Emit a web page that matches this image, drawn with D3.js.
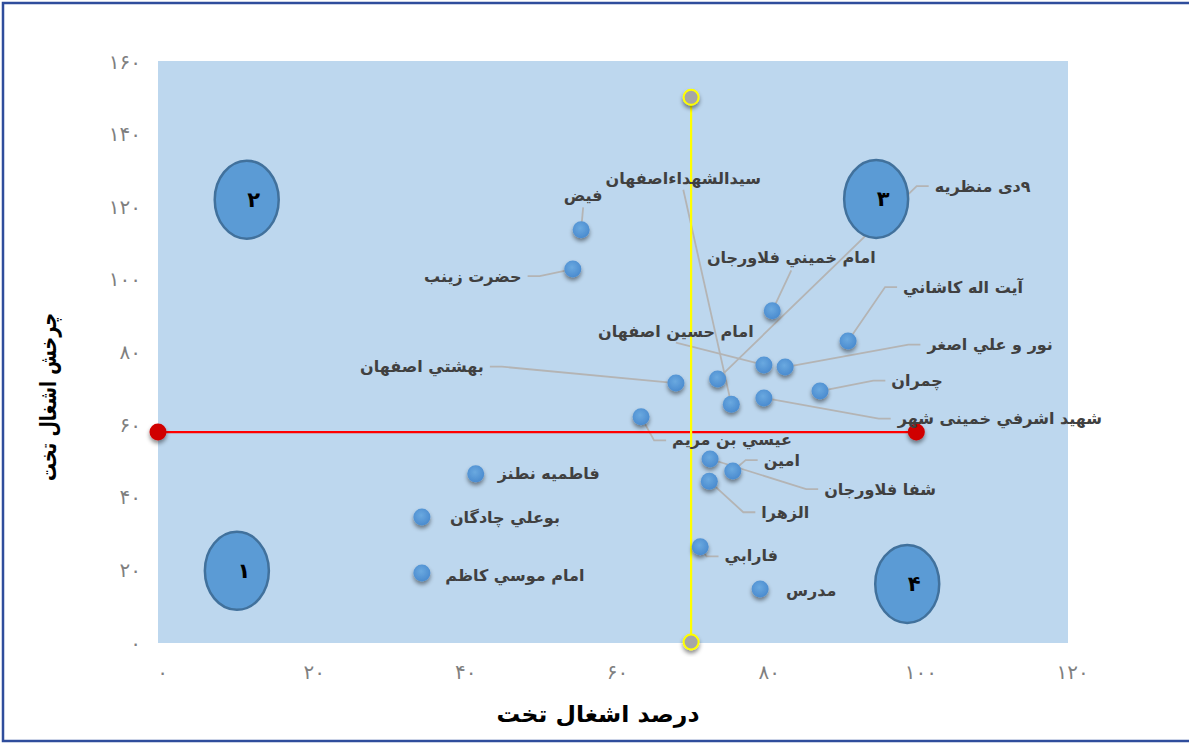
<!DOCTYPE html>
<html>
<head>
<meta charset="utf-8">
<script src="https://cdn.jsdelivr.net/npm/d3@7"></script>
<style>
  html, body { margin: 0; padding: 0; background: #ffffff; }
  svg { display: block; }
</style>
</head>
<body>
<svg id="chart" width="1189" height="744"></svg>
<script>
// ---------- data ----------
const names = [
  "فيض", "حضرت زينب", "بهشتي اصفهان", "عيسي بن مريم", "سيدالشهداءاصفهان",
  "امام حسين اصفهان", "امام خميني فلاورجان", "۹دی منظریه", "آيت اله كاشاني", "نور و علي اصغر",
  "چمران", "شهيد اشرفي خمینی شهر", "امين", "شفا فلاورجان", "الزهرا",
  "فارابي", "مدرس", "فاطميه نطنز", "بوعلي چادگان", "امام موسي كاظم"
];
const occupancy = [55.8, 54.7, 68.3, 63.7, 75.6, 79.9, 81.0, 73.8, 91.0, 82.7,
                   87.3, 79.9, 75.8, 72.8, 72.7, 71.5, 79.4, 41.9, 34.8, 34.8];
const turnover  = [113.5, 102.7, 71.3, 62.0, 65.5, 76.3, 91.2, 72.4, 82.9, 75.7,
                   69.1, 67.2, 47.1, 50.4, 44.3, 26.2, 14.6, 46.3, 34.4, 19.0];

const xTicks = [0, 20, 40, 60, 80, 100, 120];
const yTicks = [0, 20, 40, 60, 80, 100, 120, 140, 160];

const meanTurnover = 57.8;      // red reference line
const meanTurnoverXEnd = 100;
const meanOccupancy = 70.3;     // yellow reference line
const meanOccupancyYEnd = 150;

const quadrantLabels = ["۱", "۲", "۳", "۴"];
const quadrantX = [10.4, 11.7, 94.7, 98.8];
const quadrantY = [19.6, 121.8, 122.0, 16.0];

const xTitle = "درصد اشغال تخت";
const yTitle = "چرخش اشغال تخت";

// ---------- layout (label offsets in px, leader side) ----------
const labelDx = [2, -100, -254, 91, -48, -88, 19, 265, 115, 205, 97, 236, 49, 170, 76, 51, 51, 73, 83, 93];
const labelDy = [-34, 7, -17, 23, -226, -34, -53, -193, -54, -23, -11, 20, -11, 30, 31, 9, 1, 0, 0, 2];
const leaderSide = ["bottom", "right", "right", "left", "bottom", "bottom", "bottom", "left", "left", "left",
                    "left", "left", "left", "left", "left", "left", "none", "none", "none", "none"];

const toFa = s => String(s).replace(/\d/g, d => "۰۱۲۳۴۵۶۷۸۹"[+d]);

const svg = d3.select("#chart");
const W = 1189, H = 744;

const x = d3.scaleLinear().domain([0, 120]).range([158, 1068]);
const y = d3.scaleLinear().domain([0, 160]).range([642, 61]);

const defs = svg.append("defs");
const sh = defs.append("filter").attr("id", "shadow").attr("x", "-50%").attr("y", "-50%").attr("width", "200%").attr("height", "200%");
sh.append("feDropShadow").attr("dx", 0).attr("dy", 3).attr("stdDeviation", 2).attr("flood-color", "#000").attr("flood-opacity", 0.45);

const grad = defs.append("radialGradient").attr("id", "ptGrad").attr("cx", "45%").attr("cy", "40%").attr("r", "60%");
grad.append("stop").attr("offset", "0%").attr("stop-color", "#6aa9e0");
grad.append("stop").attr("offset", "100%").attr("stop-color", "#4a8bcf");

// outer border
svg.append("rect").attr("x", 3).attr("y", 3).attr("width", W + 10).attr("height", H - 6)
  .attr("fill", "#ffffff").attr("stroke", "#2f4d9c").attr("stroke-width", 2.5);

// plot area
svg.append("rect")
  .attr("x", x(0)).attr("y", y(160))
  .attr("width", x(120) - x(0)).attr("height", y(0) - y(160) + 1)
  .attr("fill", "#bdd7ee");

// axes
const xAxis = svg.append("g").attr("transform", `translate(4,${y(0) + 30})`)
  .call(d3.axisBottom(x).tickValues(xTicks).tickSize(0).tickPadding(0).tickFormat(toFa));
const yAxis = svg.append("g").attr("transform", `translate(${x(0) - 17},0)`)
  .call(d3.axisLeft(y).tickValues(yTicks).tickSize(0).tickPadding(0).tickFormat(toFa));
[xAxis, yAxis].forEach(g => {
  g.select(".domain").remove();
  g.selectAll("text").attr("fill", "#7f7f7f").attr("font-family", "DejaVu Sans, sans-serif")
    .attr("font-size", 20).attr("letter-spacing", 8).attr("dy", "0.35em").attr("direction", "ltr");
});

// axis titles
svg.append("text").attr("x", 598).attr("y", 714).attr("text-anchor", "middle").attr("dy", "0.35em")
  .attr("direction", "rtl").attr("textLength", 203).attr("lengthAdjust", "spacingAndGlyphs")
  .attr("font-family", "DejaVu Sans, sans-serif").attr("font-weight", "bold").attr("font-size", 23)
  .attr("fill", "#000").text(xTitle);
svg.append("text").attr("transform", `translate(48,397) rotate(-90)`).attr("text-anchor", "middle").attr("dy", "0.35em")
  .attr("direction", "rtl").attr("textLength", 168).attr("lengthAdjust", "spacingAndGlyphs")
  .attr("font-family", "DejaVu Sans, sans-serif").attr("font-weight", "bold").attr("font-size", 23)
  .attr("fill", "#000").text(yTitle);

const leaderG = svg.append("g");
const refG = svg.append("g");
const quadG = svg.append("g");
const ptG = svg.append("g");
const labelG = svg.append("g");

const data = names.map((n, i) => ({
  name: n, xv: occupancy[i], yv: turnover[i],
  dx: labelDx[i], dy: labelDy[i], side: leaderSide[i]
}));

const labels = labelG.selectAll("text").data(data).join("text")
  .attr("x", d => x(d.xv) + d.dx)
  .attr("y", d => y(d.yv) + d.dy)
  .attr("text-anchor", "middle").attr("dy", "0.35em")
  .attr("direction", "rtl")
  .attr("font-family", "DejaVu Sans, sans-serif").attr("font-weight", "bold").attr("font-size", 16)
  .attr("fill", "#404040")
  .text(d => d.name);

labels.each(function(d) {
  const b = this.getBBox();
  const px = x(d.xv), py = y(d.yv);
  let pts = null;
  if (d.side === "left") {
    const ex = b.x - 6, ey = b.y + b.height / 2;
    pts = [[px, py], [ex - 12, ey], [ex, ey]];
  } else if (d.side === "right") {
    const ex = b.x + b.width + 6, ey = b.y + b.height / 2;
    pts = [[px, py], [ex + 12, ey], [ex, ey]];
  } else if (d.side === "bottom") {
    const ex = px + d.dx, ey = b.y + b.height + 2;
    pts = [[px, py], [ex, ey]];
  }
  if (pts) {
    leaderG.append("path").attr("d", d3.line()(pts))
      .attr("fill", "none").attr("stroke", "#b4b4b4").attr("stroke-width", 1.8);
  }
});

// reference lines
refG.append("line").attr("x1", x(0)).attr("x2", x(meanTurnoverXEnd))
  .attr("y1", y(meanTurnover)).attr("y2", y(meanTurnover))
  .attr("stroke", "#ff0000").attr("stroke-width", 2.2);
refG.append("line").attr("x1", x(meanOccupancy)).attr("x2", x(meanOccupancy))
  .attr("y1", y(0)).attr("y2", y(meanOccupancyYEnd))
  .attr("stroke", "#ffff00").attr("stroke-width", 2.2);
refG.selectAll("circle.red").data([0, meanTurnoverXEnd]).join("circle").attr("class", "red")
  .attr("cx", d => x(d)).attr("cy", y(meanTurnover)).attr("r", 8.5)
  .attr("fill", "#d00000").attr("filter", "url(#shadow)");
refG.selectAll("circle.yel").data([0, meanOccupancyYEnd]).join("circle").attr("class", "yel")
  .attr("cx", x(meanOccupancy)).attr("cy", d => y(d)).attr("r", 7.5)
  .attr("fill", "#a6a6a6").attr("stroke", "#ffff00").attr("stroke-width", 2)
  .attr("filter", "url(#shadow)");

// quadrant ellipses
const quads = quadrantLabels.map((t, i) => ({ t, xv: quadrantX[i], yv: quadrantY[i] }));
quadG.selectAll("ellipse").data(quads).join("ellipse")
  .attr("cx", d => x(d.xv)).attr("cy", d => y(d.yv))
  .attr("rx", 32).attr("ry", 39)
  .attr("fill", "#5b9bd5").attr("stroke", "#41719c").attr("stroke-width", 2.5);
quadG.selectAll("text").data(quads).join("text")
  .attr("x", d => x(d.xv) + 7).attr("y", d => y(d.yv))
  .attr("text-anchor", "middle").attr("dy", "0.35em")
  .attr("font-family", "DejaVu Sans, sans-serif").attr("font-weight", "bold").attr("font-size", 21)
  .attr("fill", "#000").text(d => d.t);

// points
ptG.selectAll("circle").data(data).join("circle")
  .attr("cx", d => x(d.xv)).attr("cy", d => y(d.yv)).attr("r", 8.5)
  .attr("fill", "url(#ptGrad)").attr("filter", "url(#shadow)");
</script>
</body>
</html>
